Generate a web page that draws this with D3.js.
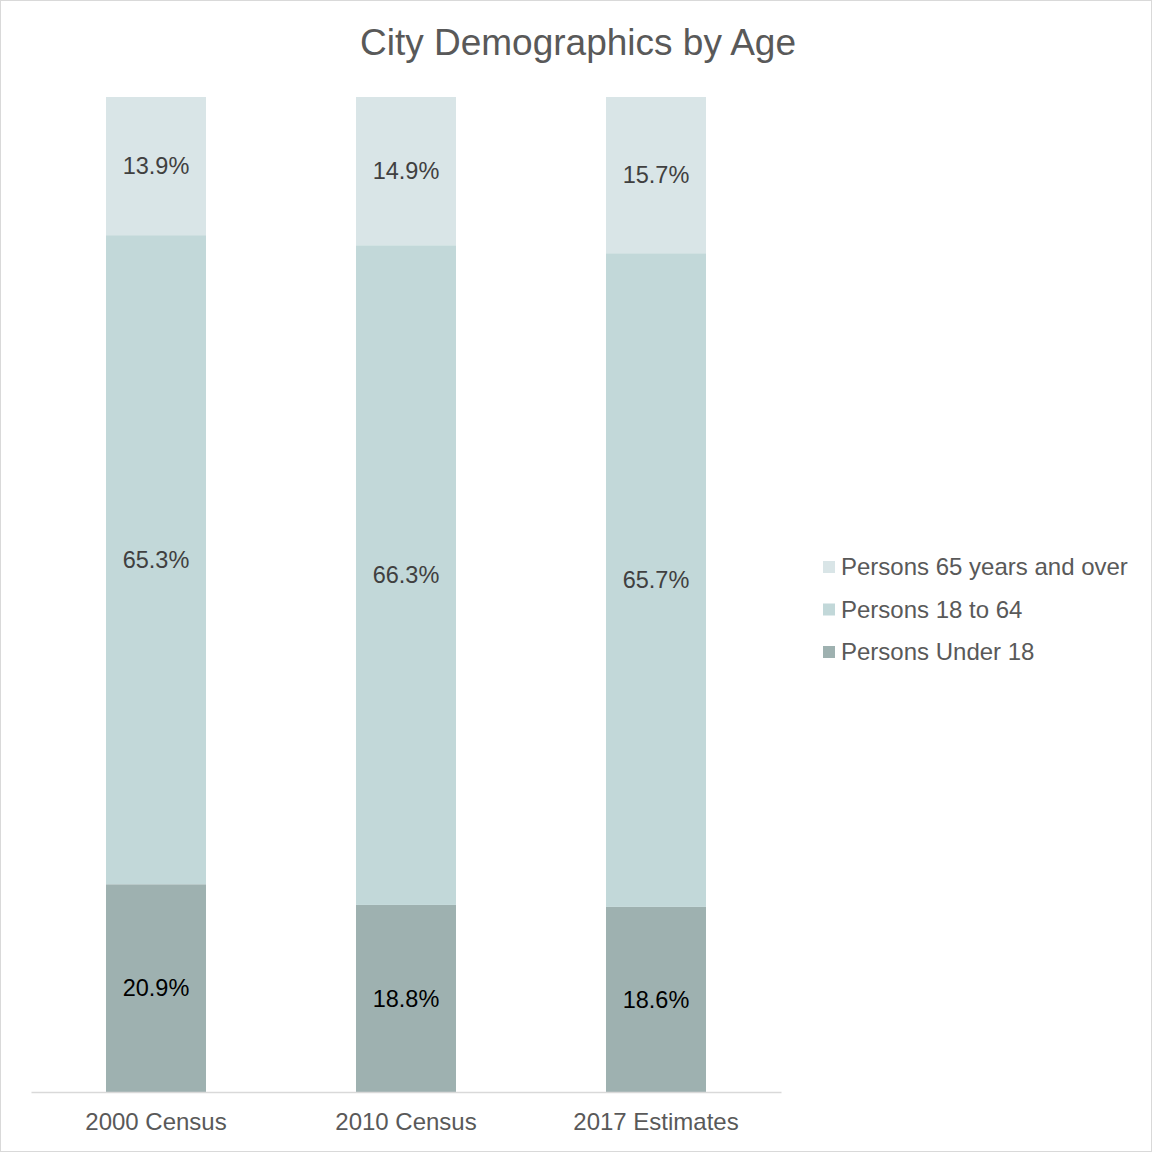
<!DOCTYPE html>
<html>
<head>
<meta charset="utf-8">
<script src="https://d3js.org/d3.v7.min.js"></script>
<style>
  body { margin: 0; background: #fff; }
  svg { font-family: "Liberation Sans", Arial, sans-serif; }
</style>
</head>
<body>
<div id="chart"></div>
<script>
var categories = ["2000 Census", "2010 Census", "2017 Estimates"];
var seriesNames = ["Persons Under 18", "Persons 18 to 64", "Persons 65 years and over"];
var under18 = [20.9, 18.8, 18.6];
var age18to64 = [65.3, 66.3, 65.7];
var over65 = [13.9, 14.9, 15.7];
var colors = ["#9eb1b0", "#c2d8d9", "#d9e5e7"];
var labelColors = ["#000000", "#404040", "#404040"];

var W = 1153, H = 1153;
var m = {top: 97, left: 31, right: 372, bottom: 61};
var w = W - m.left - m.right;
var h = H - m.top - m.bottom;

var rows = categories.map(function(c, i) {
    var r = {cat: c};
    r[seriesNames[0]] = under18[i];
    r[seriesNames[1]] = age18to64[i];
    r[seriesNames[2]] = over65[i];
    return r;
});

var stacked = d3.stack().keys(seriesNames).offset(d3.stackOffsetExpand)(rows);

var x = d3.scaleBand().domain(categories).range([0, w]).paddingInner(0.6).paddingOuter(0.3);
var y = d3.scaleLinear().domain([0, 1]).range([h, 0]);

var svg = d3.select("#chart").append("svg")
    .attr("width", W)
    .attr("height", H);

svg.append("rect")
    .attr("x", 0.5).attr("y", 0.5)
    .attr("width", W - 2).attr("height", H - 2)
    .attr("fill", "#fff")
    .attr("stroke", "#d9d9d9");

svg.append("text")
    .attr("x", 578)
    .attr("y", 55)
    .attr("text-anchor", "middle")
    .attr("font-size", 37)
    .attr("fill", "#595959")
    .text("City Demographics by Age");

var g = svg.append("g")
    .attr("transform", "translate(" + m.left + "," + m.top + ")");

var layers = g.selectAll(".layer")
    .data(stacked)
  .enter().append("g")
    .attr("class", "layer")
    .attr("fill", function(d, i) { return colors[i]; });

layers.selectAll("rect")
    .data(function(d) { return d; })
  .enter().append("rect")
    .attr("x", function(d) { return x(d.data.cat); })
    .attr("width", x.bandwidth())
    .attr("y", function(d) { return y(d[1]); })
    .attr("height", function(d) { return y(d[0]) - y(d[1]); });

stacked.forEach(function(layer, li) {
    g.selectAll(".lbl" + li)
        .data(layer)
      .enter().append("text")
        .attr("x", function(d) { return x(d.data.cat) + x.bandwidth() / 2; })
        .attr("y", function(d) { return (y(d[0]) + y(d[1])) / 2; })
        .attr("dy", "0.35em")
        .attr("text-anchor", "middle")
        .attr("font-size", 23.5)
        .attr("fill", labelColors[li])
        .text(function(d) { return d.data[layer.key].toFixed(1) + "%"; });
});

var xAxis = d3.axisBottom(x).tickSize(0).tickPadding(21);
var ax = g.append("g")
    .attr("transform", "translate(0," + h + ")")
    .call(xAxis);
ax.select(".domain").attr("stroke", "#d9d9d9").attr("stroke-width", 1.5);
ax.selectAll("text")
    .attr("font-size", 24)
    .attr("fill", "#595959")
    .attr("font-family", "Liberation Sans, Arial, sans-serif");

// legend, top item is 65+
var legendOrder = seriesNames.slice().reverse();
var legend = svg.append("g")
    .attr("transform", "translate(823,567)");
legendOrder.forEach(function(name, i) {
    var idx = seriesNames.indexOf(name);
    var row = legend.append("g").attr("transform", "translate(0," + (i * 42.5) + ")");
    row.append("rect")
        .attr("x", 0).attr("y", -6)
        .attr("width", 12).attr("height", 12)
        .attr("fill", colors[idx]);
    row.append("text")
        .attr("x", 18)
        .attr("y", 0)
        .attr("dy", "0.35em")
        .attr("font-size", 24)
        .attr("fill", "#595959")
        .text(name);
});
</script>
</body>
</html>
